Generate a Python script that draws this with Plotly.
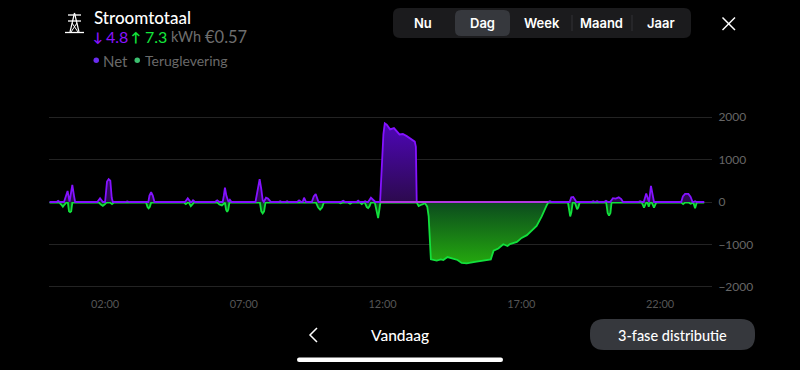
import plotly.graph_objects as go

net_hours = [0.0,0.25,0.31,0.37,0.52,0.58,0.65,0.72,0.76,0.82,0.88,0.92,1.72,1.82,1.92,2.0,2.03,2.07,2.13,2.19,2.24,2.28,
 2.72,2.8,2.88,3.56,3.6,3.66,3.72,3.78,4.88,4.98,5.08,5.12,5.17,5.24,5.96,6.04,6.12,6.24,6.28,6.32,6.37,6.42,6.45,6.5,6.56,
 7.42,7.5,7.57,7.63,7.68,7.72,7.8,7.87,7.98,8.25,8.31,8.37,8.5,8.56,8.62,8.92,8.99,9.07,9.12,9.17,9.24,9.45,9.52,9.59,9.69,
 10.5,10.58,10.66,10.84,10.9,10.96,11.06,11.12,11.18,11.31,11.37,11.43,11.48,11.58,11.68,11.74,11.91,11.98,12.03,12.08,12.15,12.27,12.41,12.61,12.73,12.87,13.05,13.16,13.2,13.23,
 17.96,18.03,18.1,18.74,18.8,18.87,18.93,18.98,19.52,19.59,19.66,19.73,19.8,19.98,20.05,20.12,20.2,20.25,20.3,20.4,20.51,20.6,20.66,
 21.21,21.28,21.36,21.41,21.5,21.57,21.6,21.67,21.74,21.78,22.76,22.82,22.9,23.02,23.1,23.17,23.2,23.26,23.32,23.59]
net_values = [0,0,25,0,0,120,260,10,150,400,150,0,0,90,0,0,200,480,540,500,100,0,
 0,15,0,0,150,230,150,0,0,90,0,0,40,0,0,40,0,0,150,340,150,10,0,50,0,
 0,250,540,300,40,0,100,80,0,0,20,0,0,20,0,0,40,0,0,100,0,0,130,190,0,
 0,30,0,0,15,0,0,30,0,0,20,0,0,100,40,0,0,900,1600,1850,1820,1710,1740,1590,1600,1550,1460,1420,1300,0,
 0,20,0,0,110,120,60,0,0,20,0,20,0,0,30,0,0,40,90,80,110,70,0,
 0,20,0,0,200,30,0,380,60,0,0,130,190,190,120,0,0,20,0,0]

return_hours = [0.0,0.36,0.42,0.48,0.54,0.6,0.66,0.7,0.74,0.78,0.82,1.78,1.85,1.92,1.98,2.05,2.18,2.25,2.32,3.48,3.53,3.57,3.61,3.66,
 4.84,4.91,4.98,5.02,5.09,5.16,5.2,6.05,6.12,6.21,6.28,6.32,6.36,6.4,6.44,6.48,7.58,7.63,7.68,7.73,7.78,9.6,9.68,9.75,9.82,9.88,
 10.42,10.49,10.56,10.76,10.83,10.9,11.18,11.25,11.32,11.36,11.43,11.48,11.53,11.58,11.72,11.78,11.84,11.88,11.92,
 13.23,13.3,13.41,13.53,13.61,13.66,13.74,13.95,14.1,14.19,14.34,14.55,14.7,14.85,15.03,15.33,15.63,15.9,16.0,16.17,16.35,16.5,16.59,16.84,17.01,17.2,17.55,17.73,17.92,17.97,
 18.68,18.72,18.76,18.8,18.85,18.93,18.97,19.01,19.05,19.1,20.06,20.11,20.16,20.21,20.25,20.75,20.85,20.95,21.34,21.42,21.5,21.55,21.59,21.64,21.7,21.78,21.86,
 22.76,22.83,22.9,23.04,23.1,23.16,23.2,23.26,23.32,23.59]
return_values = [-15,-15,-60,-110,-60,-15,-15,-220,-240,-220,-15,-15,-60,-90,-60,-15,-15,-50,-15,-15,-120,-150,-120,-15,
 -15,-50,-15,-15,-100,-60,-15,-15,-60,-80,-50,-15,-180,-230,-180,-15,-15,-220,-270,-220,-15,-15,-130,-180,-130,-15,
 -15,-30,-15,-15,-40,-15,-15,-50,-15,-15,-120,-140,-100,-15,-15,-200,-380,-200,-15,
 -15,-95,-60,-30,-110,-340,-1350,-1380,-1350,-1365,-1295,-1335,-1365,-1435,-1445,-1410,-1370,-1350,-1145,-1095,-995,-1035,-990,-940,-845,-780,-565,-345,-70,-15,
 -15,-250,-340,-250,-15,-15,-130,-170,-130,-15,-15,-260,-320,-260,-15,-15,-30,-15,-15,-130,-15,-15,-110,-15,-15,-130,-15,
 -15,-50,-15,-15,-40,-15,-15,-150,-15,-15]

baseline_hours = [11.91, 17.97]
baseline_values = [0, 0]

x_ticks = [2, 7, 12, 17, 22]
x_labels = ["02:00", "07:00", "12:00", "17:00", "22:00"]
y_ticks = [2000, 1000, 0, -1000, -2000]
tabs = ["Nu", "Dag", "Week", "Maand", "Jaar"]

W, H = 800, 370
PX = lambda x: x / W
PY = lambda y: 1 - y / H


def rounded(x0, y0, x1, y1, r, fill):
    a, b, c, d = PX(x0), PX(x1), PY(y0), PY(y1)
    rx, ry = r / W, r / H
    path = (f"M{a+rx},{c} L{b-rx},{c} Q{b},{c} {b},{c-ry} L{b},{d+ry} Q{b},{d} {b-rx},{d} "
            f"L{a+rx},{d} Q{a},{d} {a},{d+ry} L{a},{c-ry} Q{a},{c} {a+rx},{c} Z")
    return dict(type="path", xref="paper", yref="paper", path=path, fillcolor=fill, line_width=0, layer="below")


def stroke(points, color, width=1.5):
    path = "M" + " L".join(f"{PX(x)},{PY(y)}" for x, y in points)
    return dict(type="path", xref="paper", yref="paper", path=path, line=dict(color=color, width=width))


def text(x, y, s, size, color, anchor="left", font="Lato", weight=400):
    if anchor == "left":
        x -= 2
    return dict(xref="paper", yref="paper", x=PX(x), y=PY(y), text=s, showarrow=False, xanchor=anchor,
                yanchor="middle", font=dict(family=font, size=size, color=color, weight=weight))


shapes = [
    rounded(393, 8, 691, 38, 7, "#1b1b1d"),
    rounded(455, 10, 510, 36, 6, "#36383d"),
    stroke([(572, 15), (572, 31)], "#333336", 1),
    stroke([(632, 15), (632, 31)], "#333336", 1),
    stroke([(722.5, 17.5), (735, 30)], "#ffffff", 1.5),
    stroke([(735, 17.5), (722.5, 30)], "#ffffff", 1.5),
    stroke([(317, 328), (310, 335), (317, 342)], "#ffffff", 1.5),
    rounded(590, 319, 755, 350, 14, "#36383d"),
    rounded(297, 357.5, 503, 362, 2.2, "#ffffff"),
    # pylon icon
    stroke([(65, 32.5), (84, 32.5)], "#ffffff", 1.3),
    stroke([(68, 15), (81, 15)], "#ffffff", 1.3),
    stroke([(68, 21), (81, 21)], "#ffffff", 1.3),
    stroke([(74.5, 13), (70, 32)], "#ffffff", 1.2),
    stroke([(74.5, 13), (79, 32)], "#ffffff", 1.2),
    stroke([(72, 23), (78, 32)], "#ffffff", 1),
    stroke([(77, 23), (71, 32)], "#ffffff", 1),
    # legend dots
    dict(type="circle", xref="paper", yref="paper", x0=PX(93.5), x1=PX(99), y0=PY(63), y1=PY(57.5), fillcolor="#6a2cf0", line_width=0),
    dict(type="circle", xref="paper", yref="paper", x0=PX(134.5), x1=PX(140), y0=PY(63), y1=PY(57.5), fillcolor="#3cc070", line_width=0),
]

annotations = [
    text(94, 18, "Stroomtotaal", 17, "#ffffff", weight=500),
    text(93, 36.5, "↓", 13, "#8a14ff", weight=700),
    text(106, 36.5, "4.8", 16, "#8a14ff"),
    text(131, 36.5, "↑", 13, "#14e63c", weight=700),
    text(145, 36.5, "7.3", 16, "#14e63c"),
    text(171, 36.5, "kWh", 14.5, "#6e6e6e"),
    text(205, 36.5, "€0.57", 16.5, "#6e6e6e"),
    text(103, 60.5, "Net", 15, "#6a6a6a"),
    text(145, 60.5, "Teruglevering", 14, "#6a6a6a"),
    text(400, 335, "Vandaag", 15.5, "#ffffff", "center", weight=500),
    text(672, 335, "3-fase distributie", 14.5, "#ffffff", "center", weight=500),
]
for name, cx in zip(tabs, [423, 482, 542, 601, 661]):
    annotations.append(text(cx, 23, name, 13, "#ffffff", "center", "Inter", 600))

fig = go.Figure()
fig.add_trace(go.Scatter(
    x=return_hours, y=return_values, mode="lines", name="Teruglevering",
    line=dict(color="#12e03c", width=1.8),
    fill="tozeroy",
    fillgradient=dict(type="vertical", colorscale=[[0, "#24a80e"], [1, "#0b4a1e"]]),
))
fig.add_trace(go.Scatter(
    x=net_hours, y=net_values, mode="lines", name="Net",
    line=dict(color="#8412ff", width=1.8),
    fill="tozeroy",
    fillgradient=dict(type="vertical", colorscale=[[0, "#2c0a4e"], [1, "#4e06b8"]]),
))
fig.add_trace(go.Scatter(
    x=baseline_hours, y=baseline_values, mode="lines", name="Baseline",
    line=dict(color="#b238e0", width=1.8),
))

fig.update_layout(
    width=W, height=H, autosize=False, showlegend=False,
    margin=dict(l=0, r=0, t=0, b=0),
    paper_bgcolor="#000000", plot_bgcolor="#000000",
    shapes=shapes, annotations=annotations,
    xaxis=dict(domain=[49 / W, 712 / W], range=[-0.02, 23.87], tickvals=x_ticks, ticktext=x_labels,
               automargin=False, showgrid=False, zeroline=False, showline=False, ticks="outside", ticklen=6,
               tickcolor="rgba(0,0,0,0)", tickfont=dict(family="Lato", size=11, color="#555555")),
    yaxis=dict(domain=[1 - 288 / H, 1 - 116 / H], range=[-2024, 2024], side="right", tickvals=y_ticks,
               automargin=False, gridcolor="#232323", gridwidth=1, zeroline=False, showline=False, ticks="outside", ticklen=3,
               tickcolor="rgba(0,0,0,0)", tickfont=dict(family="Lato", size=12, color="#666666")),
)

fig.write_html("out.html", config=dict(displayModeBar=False),
               post_script="document.body.style.margin='0';document.body.style.background='#000';")
